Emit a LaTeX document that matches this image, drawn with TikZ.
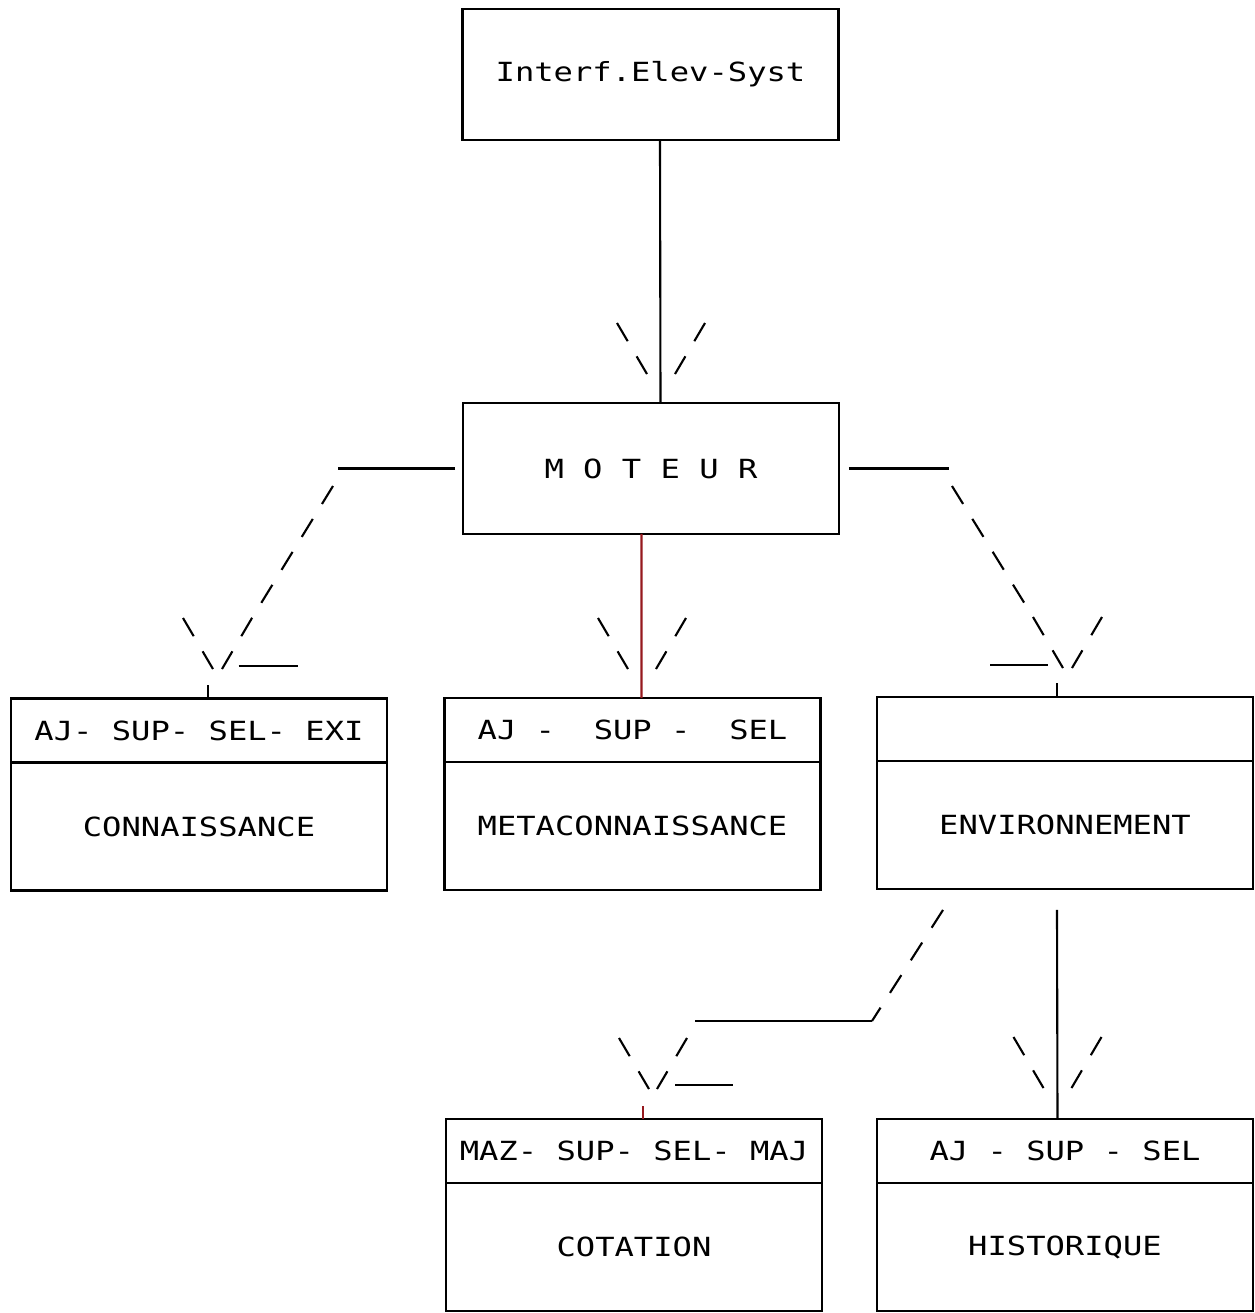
\documentclass[tikz,border=0pt]{standalone}
\usepackage{fontspec}
\newfontfamily\prnfont[FakeStretch=1.22]{DejaVu Sans Mono}
\usetikzlibrary{positioning}
\definecolor{inkred}{RGB}{150,25,30}
\tikzset{pics/vhead/.style={code={
  \draw[dashes] (-#1-30,-51) -- (-#1,0);
  \draw[dashes] (#1+30,-51) -- (#1,0);
}}}

\begin{document}
\begin{tikzpicture}[x=0.02cm,y=-0.02cm]
  \tikzstyle{box}=[draw,line width=1.2pt,outer sep=0pt,inner sep=0pt,minimum width=7.52cm,font=\prnfont\fontsize{15}{17}\selectfont]
  \tikzstyle{big}=[box,minimum height=2.62cm]
  \tikzstyle{head}=[box,minimum height=1.28cm]
  \tikzstyle{body}=[box,minimum height=2.56cm]
  \tikzstyle{link}=[draw,line width=1.2pt]
  \tikzstyle{dashes}=[draw,line width=1.2pt,dash pattern=on 12pt off 10pt]
  \useasboundingbox (0,0) rectangle (1255,1313);
  % boxes
  \node[big] (interf) at (650.5,74.5) {Interf.Elev-Syst};
  \node[big] (moteur) at (651,468.5) {M O T E U R};
  \node[head] (connH) at (199,730.5) {AJ- SUP- SEL- EXI};
  \node[body,below=0pt of connH] (conn) {CONNAISSANCE};
  \node[head] (metaH) at (632.5,730) {AJ -~ SUP -~ SEL};
  \node[body,below=0pt of metaH] (meta) {METACONNAISSANCE};
  \node[head] (envH) at (1065,729) {};
  \node[body,below=0pt of envH] (env) {ENVIRONNEMENT};
  \node[head] (cotH) at (634,1151) {MAZ- SUP- SEL- MAJ};
  \node[body,below=0pt of cotH] (cot) {COTATION};
  \node[head] (histH) at (1065,1151) {AJ - SUP - SEL};
  \node[body,below=0pt of histH] (hist) {HISTORIQUE};
  % interface -> moteur
  \path[link] ([shift={(9.5,0)}]interf.south) -- ([shift={(9.5,0)}]moteur.north);
  \pic at ([shift={(10,-29)}]moteur.north) {vhead=14};
  % moteur -> metaconnaissance
  \path[link,inkred] ([shift={(-9.5,0)}]moteur.south) -- ([shift={(9,0)}]metaH.north);
  \pic at ([shift={(9.5,-29)}]metaH.north) {vhead=14};
  % moteur -> connaissance
  \coordinate (connKnee) at (333,486);
  \coordinate (connTip) at (217.5,669);
  \path[link] ([shift={(-8,0)}]moteur.west) -- ++(-117,0);
  \path[dashes] (connKnee) -- ([shift={(34.5,-51)}]connTip);
  \pic at (connTip) {vhead=4.5};
  \path[link] ([shift={(21,-3)}]connTip) -- ++(59,0);
  \path[link] ([shift={(9,0)}]connH.north) -- ++(0,-14);
  % moteur -> environnement
  \coordinate (envKnee) at (952,486);
  \coordinate (envTip) at (1067.5,668);
  \path[link] ([shift={(10,0)}]moteur.east) -- ++(100,0);
  \path[dashes] (envKnee) -- ([shift={(-34.5,-51)}]envTip);
  \pic at (envTip) {vhead=4.5};
  \path[link] ([shift={(-77.5,-3)}]envTip) -- ++(58,0);
  \path[link] ([shift={(-8,0)}]envH.north) -- ++(0,-14);
  % environnement -> cotation
  \coordinate (cotKnee) at (872,1021);
  \coordinate (cotTip) at (653,1089);
  \path[dashes] ([shift={(-122,21)}]env.south) -- (cotKnee);
  \path[link] (cotKnee) -- ++(-177,0);
  \pic at (cotTip) {vhead=4};
  \path[link] ([shift={(22,-4)}]cotTip) -- ++(58,0);
  \path[link,inkred] ([shift={(9,0)}]cotH.north) -- ++(0,-13);
  % environnement -> historique
  \path[link] ([shift={(-8,21)}]env.south) -- ([shift={(-7.5,0)}]histH.north);
  \pic at ([shift={(-7.5,-31)}]histH.north) {vhead=14};
\end{tikzpicture}
\end{document}
